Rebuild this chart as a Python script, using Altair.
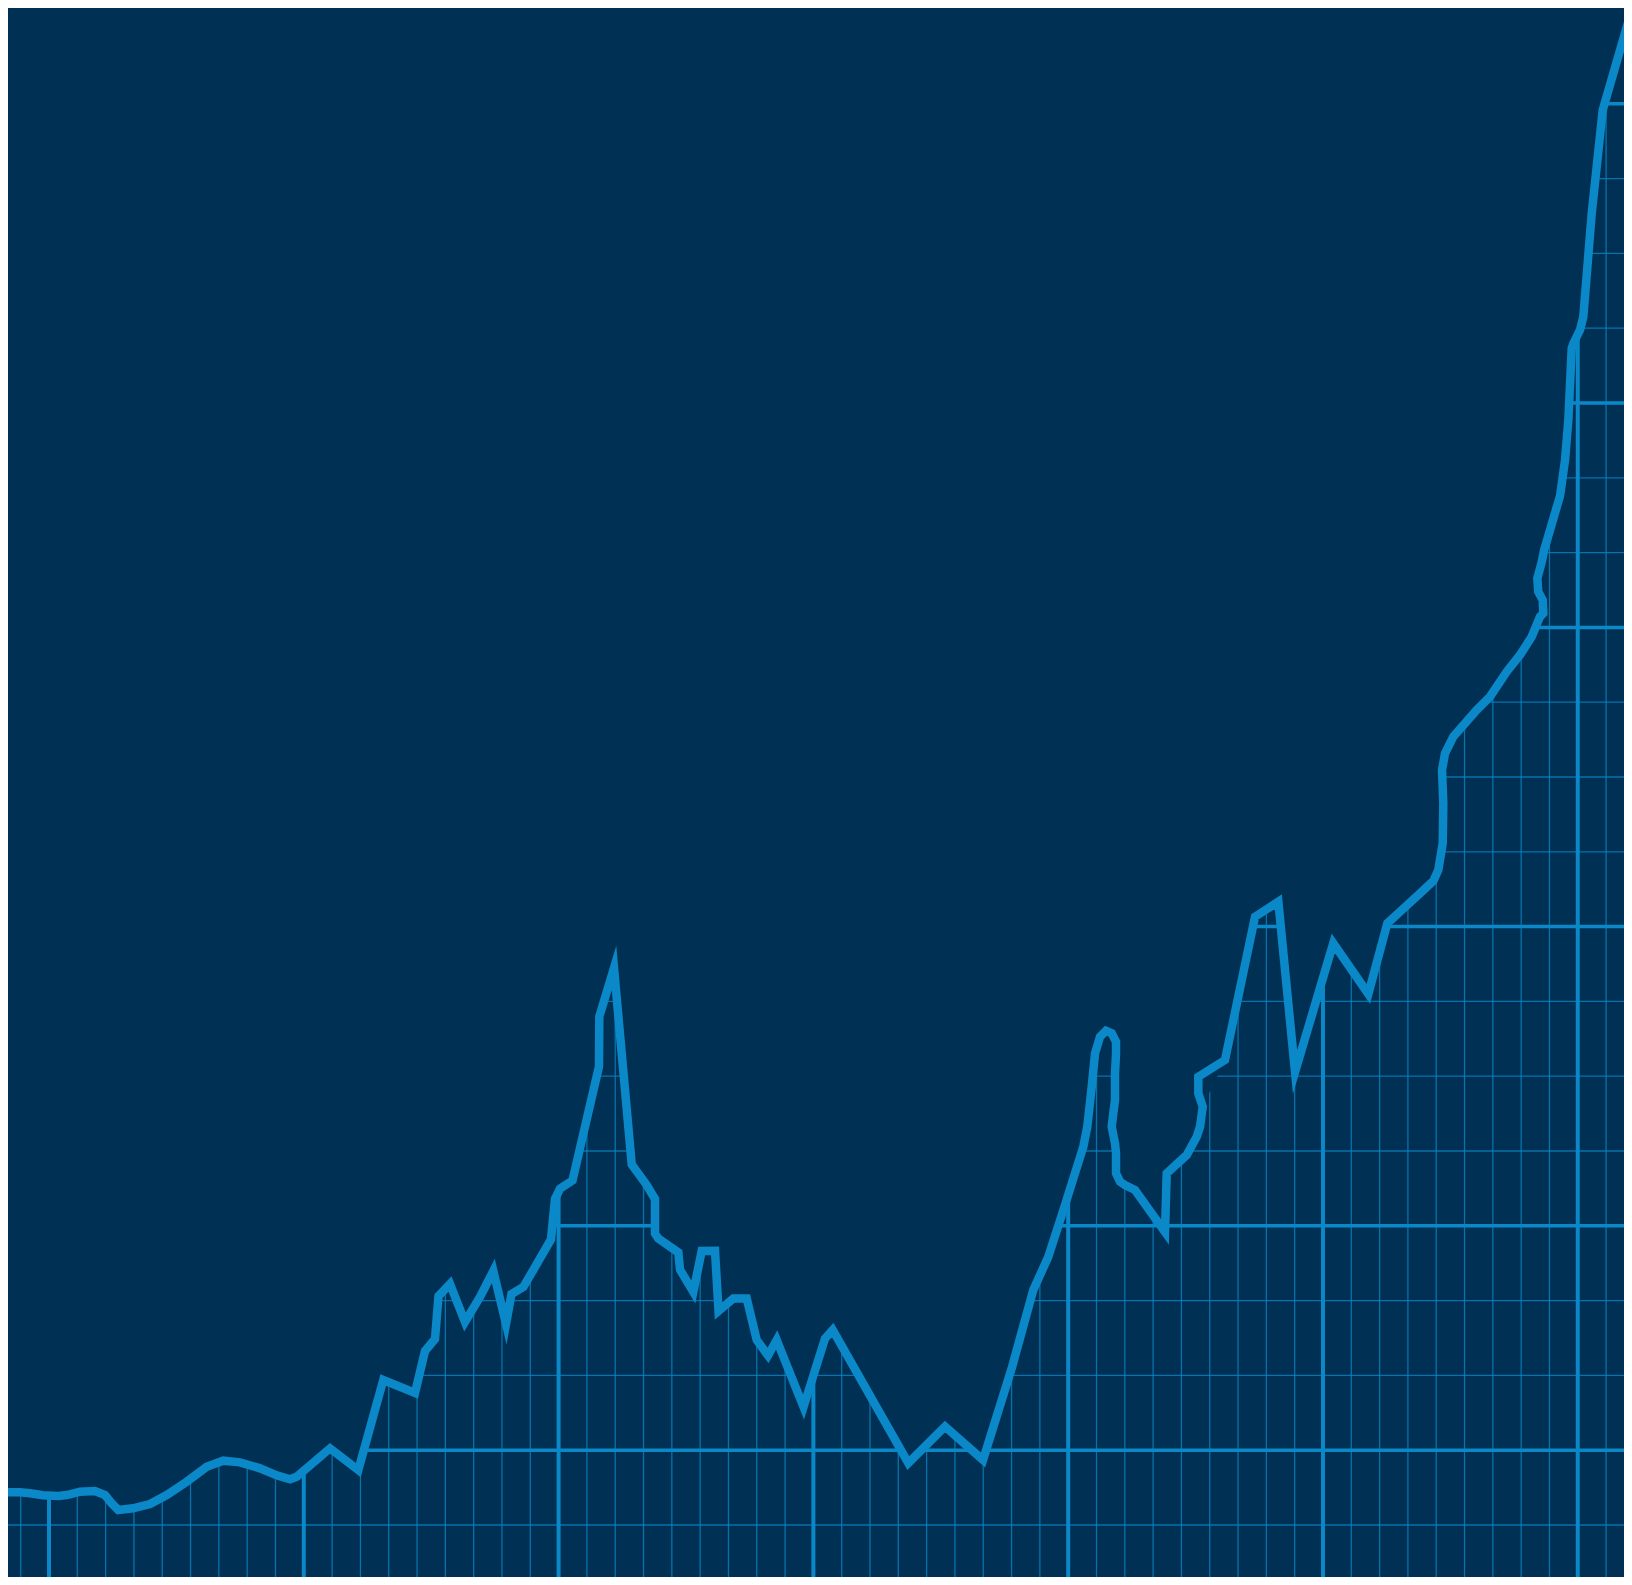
import altair as alt
import pandas as pd

# ---- data (grid units: x = period index, y = value level) ----
line_x = [-0.731, -0.025, 0.329, 0.788, 1.318, 1.635, 2.095, 2.625, 2.978, 3.214,
          3.448, 3.967, 4.567, 5.157, 5.864, 6.570, 7.157, 7.746, 8.453, 9.043,
          9.513, 9.749, 10.926, 11.925, 12.808, 13.928, 14.281, 14.634, 14.758, 15.164,
          15.694, 16.224, 16.694, 17.142, 17.336, 17.757, 18.732, 18.873, 19.050, 19.491,
          20.427, 20.438, 20.957, 21.583, 22.112, 22.405, 22.405, 22.522, 23.229, 23.289,
          23.759, 24.055, 24.525, 24.649, 25.171, 25.645, 25.998, 26.397, 26.704, 27.651,
          28.410, 28.682, 31.353, 32.649, 33.992, 35.005, 35.768, 36.298, 36.888, 37.535,
          37.676, 37.831, 37.948, 38.125, 38.336, 38.538, 38.690, 38.690, 38.654, 38.654,
          38.594, 38.538, 38.654, 38.690, 38.690, 38.831, 39.007, 39.361, 40.420, 40.480,
          41.187, 41.540, 41.657, 41.752, 41.597, 41.597, 42.540, 43.600, 44.423, 45.013,
          46.364, 47.602, 48.273, 49.427, 49.898, 50.074, 50.230, 50.251, 50.205, 50.311,
          50.604, 51.431, 51.900, 52.490, 52.960, 53.373, 53.666, 53.783, 53.762, 53.606,
          53.571, 53.727, 53.812, 54.374, 54.550, 54.667, 54.786, 54.850, 55.079, 55.196,
          55.493, 55.881, 56.904]
line_y = [0.437, 0.437, 0.424, 0.397, 0.388, 0.401, 0.445, 0.455, 0.401, 0.290,
          0.201, 0.223, 0.281, 0.401, 0.579, 0.779, 0.860, 0.838, 0.758, 0.664,
          0.611, 0.646, 1.025, 0.735, 1.939, 1.765, 2.326, 2.487, 3.061, 3.222,
          2.714, 3.048, 3.396, 2.687, 3.088, 3.182, 3.817, 4.358, 4.497, 4.606,
          6.130, 6.798, 7.447, 4.820, 4.545, 4.358, 3.898, 3.829, 3.644, 3.413,
          3.115, 3.663, 3.667, 2.861, 3.028, 3.028, 2.473, 2.266, 2.473, 1.578,
          2.493, 2.607, 0.829, 1.317, 0.869, 2.095, 3.142, 3.587, 4.278, 5.058,
          5.325, 5.860, 6.306, 6.528, 6.608, 6.574, 6.461, 6.306, 6.039, 5.682,
          5.504, 5.325, 5.103, 4.969, 4.702, 4.590, 4.545, 4.479, 3.917, 4.702,
          4.947, 5.191, 5.325, 5.592, 5.771, 5.993, 6.217, 8.132, 8.333, 6.056,
          7.777, 7.099, 8.044, 8.445, 8.610, 8.757, 9.114, 9.648, 10.094, 10.317,
          10.539, 10.896, 11.074, 11.408, 11.631, 11.876, 12.143, 12.188, 12.366, 12.477,
          12.655, 12.874, 13.035, 13.759, 14.238, 14.775, 15.731, 15.802, 15.976, 16.154,
          17.536, 18.917, 20.254]

grid_x = list(range(0, 57))
grid_x_major = [1, 10, 19, 28, 37, 46, 55]
grid_y = list(range(0, 20))
grid_y_major = [1, 4, 8, 12, 15, 19]

# ---- styling ----
BG = "#003054"
BLUE = "#0A88C8"
X_DOMAIN = [-0.4486, 56.633]
Y_DOMAIN = [-0.695, 20.281]
Y_TOP = 25

line_df = pd.DataFrame({"i": range(len(line_x)), "x": line_x, "y": line_y})
line_df["top"] = Y_TOP
vx_minor = pd.DataFrame({"x": [v for v in grid_x if v not in grid_x_major]})
vx_major = pd.DataFrame({"x": grid_x_major})
hy_minor = pd.DataFrame({"y": [v for v in grid_y if v not in grid_y_major]})
hy_major = pd.DataFrame({"y": grid_y_major})

xs = alt.Scale(domain=X_DOMAIN, nice=False, zero=False)
ys = alt.Scale(domain=Y_DOMAIN, nice=False, zero=False)

v_minor = alt.Chart(vx_minor).mark_rule(color=BLUE, strokeWidth=1.3, opacity=0.75).encode(
    x=alt.X("x:Q", scale=xs, axis=None))
h_minor = alt.Chart(hy_minor).mark_rule(color=BLUE, strokeWidth=1.3, opacity=0.75).encode(
    y=alt.Y("y:Q", scale=ys, axis=None))
h_major = alt.Chart(hy_major).mark_rule(color=BLUE, strokeWidth=3.5).encode(
    y=alt.Y("y:Q", scale=ys, axis=None))
v_major = alt.Chart(vx_major).mark_rule(color=BLUE, strokeWidth=4).encode(
    x=alt.X("x:Q", scale=xs, axis=None))

# mask hides the grid above the price line
mask = alt.Chart(line_df).mark_area(color=BG, orient="vertical").encode(
    x=alt.X("x:Q", scale=xs, axis=None),
    y=alt.Y("top:Q", scale=ys, axis=None),
    y2=alt.Y2("y:Q"),
)

line = alt.Chart(line_df).mark_line(color=BLUE, strokeWidth=8.5, clip=True,
                                    strokeJoin="miter", strokeMiterLimit=20).encode(
    x=alt.X("x:Q", scale=xs, axis=None),
    y=alt.Y("y:Q", scale=ys, axis=None),
    order=alt.Order("i:Q"),
)

chart = alt.layer(v_minor, h_minor, h_major, v_major, mask, line).properties(
    width=1616, height=1569, background=BG, padding=0,
    autosize=alt.AutoSizeParams(type="none"),
).configure_view(strokeWidth=0, clip=True)

chart.save("out.html", embed_options={"renderer": "svg", "actions": False})
